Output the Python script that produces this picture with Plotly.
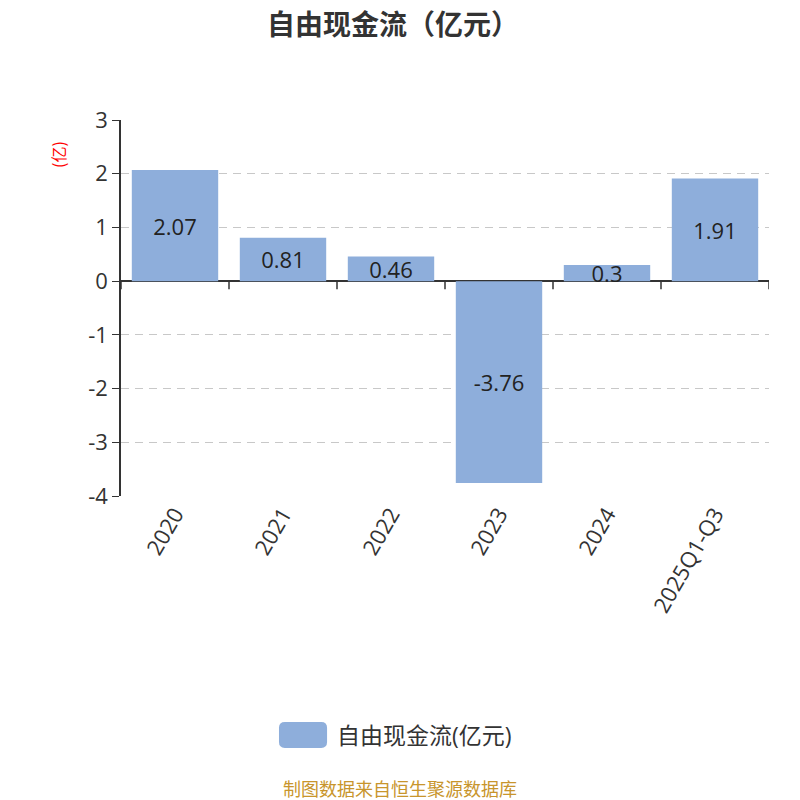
import plotly.graph_objects as go

# data
categories = ["2020", "2021", "2022", "2023", "2024", "2025Q1-Q3"]
fcf_values = [2.07, 0.81, 0.46, -3.76, 0.3, 1.91]
y_ticks = [3, 2, 1, 0, -1, -2, -3, -4]

series_name = "自由现金流(亿元)"
font_family = "Open Sans, Noto Sans CJK SC"
cjk_font = "Noto Sans CJK SC"
bar_color = "#8eaedb"
text_color = "#333333"

fig = go.Figure()

fig.add_trace(go.Bar(
    x=categories, y=fcf_values,
    name=series_name,
    marker=dict(color=bar_color, line=dict(width=0)),
    width=0.8,
    text=[str(v) for v in fcf_values],
    textposition="inside", insidetextanchor="middle",
    textfont=dict(size=22, color="#222222", family=font_family),
    cliponaxis=False,
    showlegend=False,
))

# category boundary ticks hanging from the zero line
for i in range(len(categories) + 1):
    fig.add_shape(type="line", xref="x", yref="y",
                  x0=i - 0.5, x1=i - 0.5, y0=0, y1=-0.15,
                  line=dict(color=text_color, width=1.5))

# legend drawn by hand: rounded swatch + label
x0, x1, y0, y1, r = 0.2438, 0.318, -0.601, -0.670, 0.009
ry = r * 648 / 376
legend_path = (f"M {x0 + r},{y0} L {x1 - r},{y0} Q {x1},{y0} {x1},{y0 - ry} "
               f"L {x1},{y1 + ry} Q {x1},{y1} {x1 - r},{y1} "
               f"L {x0 + r},{y1} Q {x0},{y1} {x0},{y1 + ry} "
               f"L {x0},{y0 - ry} Q {x0},{y0} {x0 + r},{y0} Z")
fig.add_shape(type="path", xref="paper", yref="paper", path=legend_path,
              fillcolor=bar_color, line=dict(width=0))

fig.update_layout(
    width=792, height=792,
    paper_bgcolor="white", plot_bgcolor="white",
    margin=dict(l=113, r=31, t=112, b=304),
    font=dict(family=font_family, color=text_color),
    title=dict(text="<b>自由现金流（亿元）</b>", x=0.486, xanchor="center",
               y=0.978, yanchor="middle",
               font=dict(size=28, color=text_color, family=cjk_font)),
    showlegend=False,
    xaxis=dict(
        type="category",
        range=[-0.5, len(categories) - 0.5],
        showgrid=False, showline=False, ticks="",
        tickangle=-60,
        tickfont=dict(size=22, color=text_color, family=font_family),
    ),
    yaxis=dict(
        range=[-4, 3],
        tickvals=y_ticks,
        ticktext=[str(t) for t in y_ticks],
        showgrid=True, gridcolor="#c8c8c8", griddash="8px,6px", gridwidth=1.3,
        zeroline=True, zerolinecolor=text_color, zerolinewidth=1.5,
        showline=True, linecolor=text_color, linewidth=1.5,
        ticks="outside", ticklen=7, tickcolor=text_color,
        tickfont=dict(size=22, color=text_color, family=font_family),
    ),
    uniformtext=dict(minsize=22, mode="show"),
    annotations=[
        dict(text="(亿)", xref="paper", yref="paper", x=-0.0972, y=0.907,
             xanchor="center", yanchor="middle",
             showarrow=False, textangle=-90,
             font=dict(size=16, color="red", family=cjk_font)),
        dict(text=series_name, xref="paper", yref="paper", x=0.331, y=-0.6355,
             xanchor="left", yanchor="middle", showarrow=False,
             font=dict(size=23, color=text_color, family=font_family)),
        dict(text="制图数据来自恒生聚源数据库", xref="paper", yref="paper",
             x=0.4306, y=-0.7766, xanchor="center", yanchor="middle", showarrow=False,
             font=dict(size=18, color="#c8952c", family=cjk_font)),
    ],
)

fig.write_html("out.html")
